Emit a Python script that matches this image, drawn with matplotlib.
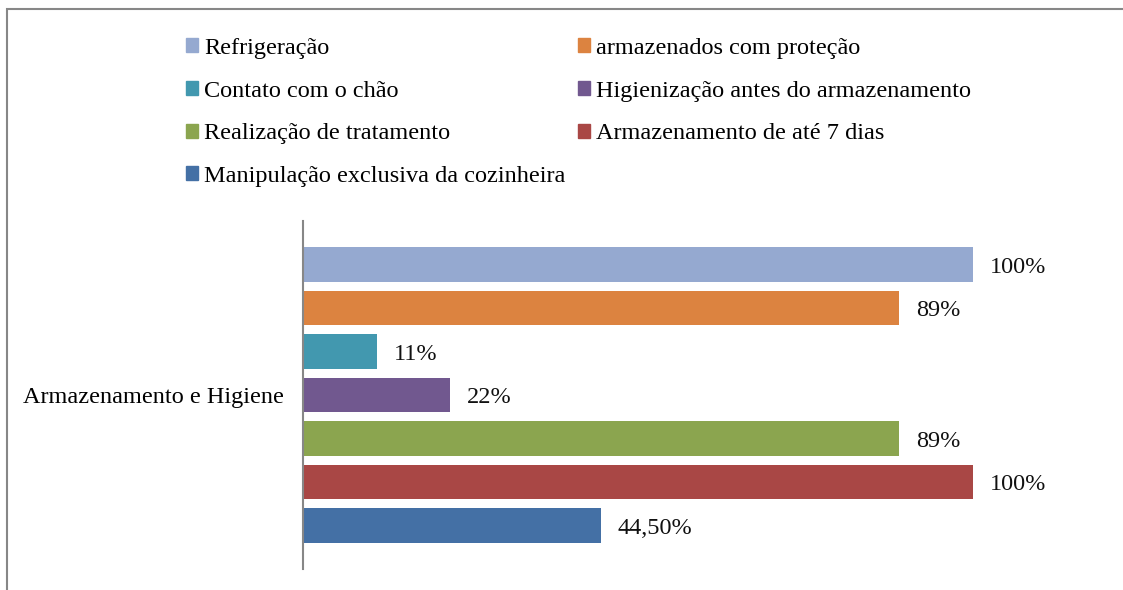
import matplotlib.pyplot as plt
from matplotlib.patches import Patch, Rectangle

# dados do gráfico
categoria = "Armazenamento e Higiene"
series = ["Refrigeração", "armazenados com proteção", "Contato com o chão",
          "Higienização antes do armazenamento", "Realização de tratamento",
          "Armazenamento de até 7 dias", "Manipulação exclusiva da cozinheira"]
valores = [100, 89, 11, 22, 89, 100, 44.5]
rotulos = ["100%", "89%", "11%", "22%", "89%", "100%", "44,50%"]
cores = ["#95A9D0", "#DC8340", "#4298AF", "#71588F", "#8BA54F", "#A94745", "#4470A5"]

plt.rcParams['font.family'] = ['Liberation Serif', 'DejaVu Serif']
fs = 17.5

fig = plt.figure(figsize=(11.23, 5.90), dpi=100)
ax = fig.add_axes([303/1123, 21/590, 804/1123, 348/590])

for i, (v, c) in enumerate(zip(valores, cores)):
    ax.barh(i, v, height=0.79, color=c, label=series[i])
    ax.annotate(rotulos[i], xy=(v, i), xytext=(12, -2), textcoords='offset points',
                va='center', ha='left', fontsize=fs, color='#111111')

ax.set_xlim(0, 120)
ax.set_ylim(7, -1)
ax.set_yticks([3])
ax.set_yticklabels([categoria], fontsize=fs)
ax.tick_params(axis='y', length=0, pad=14)
ax.set_xticks([])
for s in ['top', 'right', 'bottom']:
    ax.spines[s].set_visible(False)
ax.spines['left'].set_color('#878787')
ax.spines['left'].set_linewidth(1.5)

# legenda em duas colunas (ordem por linha)
hs = [Patch(color=c) for c in cores]
kw = dict(frameon=False, fontsize=fs, handlelength=0.5, handleheight=0.5,
          handletextpad=0.25, labelspacing=0.89, borderpad=0, borderaxespad=0,
          loc='upper left')
col1 = [0, 2, 4, 6]
col2 = [1, 3, 5]
fig.legend([hs[i] for i in col1], [series[i] for i in col1],
           bbox_to_anchor=(186/1123, 1 - 38/590), **kw)
fig.legend([hs[i] for i in col2], [series[i] for i in col2],
           bbox_to_anchor=(578/1123, 1 - 38/590), **kw)

# moldura
fig.patches.append(Rectangle((7/1123, -0.1), 1.2, 1 - 9/590 + 0.1,
                             transform=fig.transFigure, fill=False,
                             edgecolor='#878787', linewidth=1.5))

fig.savefig("out.png", dpi=100)
